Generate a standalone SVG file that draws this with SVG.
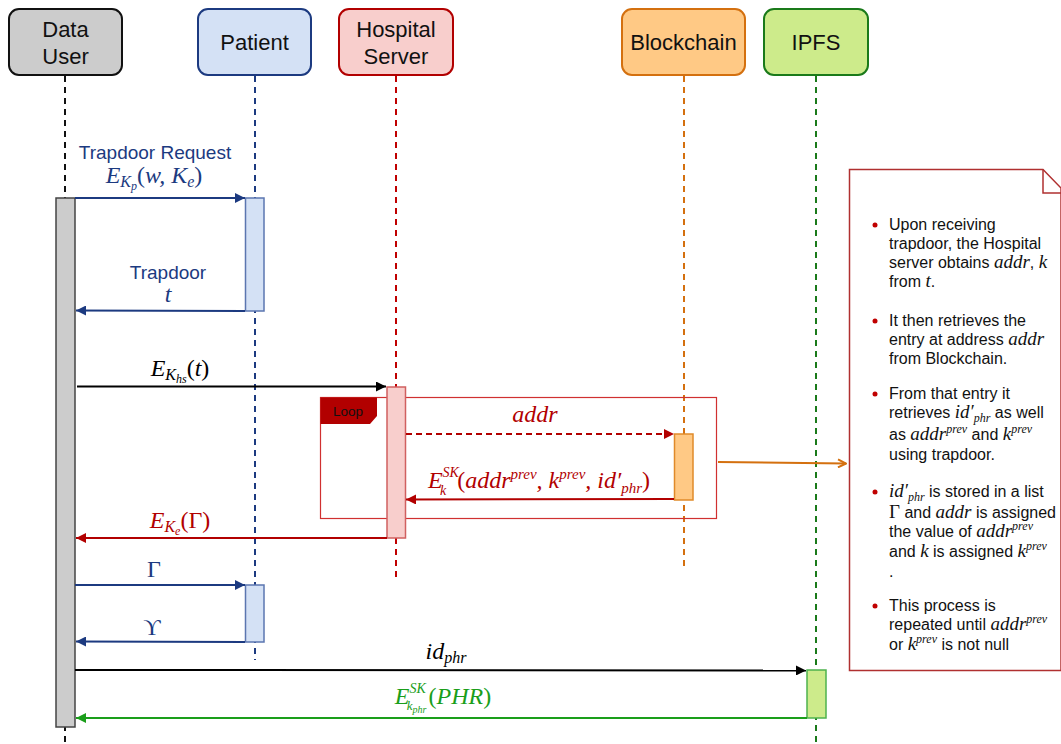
<svg xmlns="http://www.w3.org/2000/svg" width="1061" height="744" viewBox="0 0 1061 744">
  <style>
    .hdr { font-family: "Liberation Sans", Arial, sans-serif; font-size: 22px; fill: #111; text-anchor: middle; }
    .lbl { font-family: "Liberation Sans", Arial, sans-serif; font-size: 19px; text-anchor: middle; }
    .m { font-family: "Liberation Serif", "Times New Roman", serif; font-size: 24px; font-style: italic; text-anchor: middle; }
    .u { font-style: normal; }
    .note { font-family: "Liberation Sans", Arial, sans-serif; font-size: 16px; fill: #111; }
    .mi { font-family: "Liberation Serif", "Times New Roman", serif; font-size: 19px; font-style: italic; }
    .mu { font-family: "Liberation Serif", "Times New Roman", serif; font-size: 19px; font-style: normal; }
    .sx { font-family: "Liberation Serif", "Times New Roman", serif; font-size: 12px; font-style: italic; }
    .life { fill: none; stroke-width: 2; stroke-dasharray: 6 5; }
    .msg { fill: none; stroke-width: 2; }
    .blue { fill: #1c3a80; }
    .red { fill: #b20000; }
    .green { fill: #1a9e1a; }
    .black { fill: #000; }
  </style>
  <defs>
    <marker id="ahBlue" viewBox="0 0 10 10" refX="10" refY="5" markerWidth="12" markerHeight="10" markerUnits="userSpaceOnUse" orient="auto">
      <path d="M0,0 L10,5 L0,10 z" fill="#1c3a80"/>
    </marker>
    <marker id="ahBlack" viewBox="0 0 10 10" refX="10" refY="5" markerWidth="12" markerHeight="10" markerUnits="userSpaceOnUse" orient="auto">
      <path d="M0,0 L10,5 L0,10 z" fill="#000"/>
    </marker>
    <marker id="ahRed" viewBox="0 0 10 10" refX="10" refY="5" markerWidth="12" markerHeight="10" markerUnits="userSpaceOnUse" orient="auto">
      <path d="M0,0 L10,5 L0,10 z" fill="#b20000"/>
    </marker>
    <marker id="ahGreen" viewBox="0 0 10 10" refX="10" refY="5" markerWidth="12" markerHeight="10" markerUnits="userSpaceOnUse" orient="auto">
      <path d="M0,0 L10,5 L0,10 z" fill="#1a9e1a"/>
    </marker>
    <marker id="ahOpenOrange" viewBox="0 0 10 10" refX="9" refY="5" markerWidth="11" markerHeight="10" markerUnits="userSpaceOnUse" orient="auto">
      <path d="M1,1 L9,5 L1,9" fill="none" stroke="#d4700f" stroke-width="2"/>
    </marker>
  </defs>

  <rect width="1061" height="744" fill="#fff"/>

  <!-- lifelines -->
  <g id="lifelines">
    <line class="life" x1="65" y1="76" x2="65" y2="744" stroke="#111"/>
    <line class="life" x1="255" y1="76" x2="255" y2="660" stroke="#1c3a80"/>
    <line class="life" x1="396" y1="76" x2="396" y2="577" stroke="#c00000"/>
    <line class="life" x1="684" y1="76" x2="684" y2="567" stroke="#d4700f"/>
    <line class="life" x1="816" y1="76" x2="816" y2="744" stroke="#1a7a1a"/>
  </g>

  <!-- participant heads -->
  <g id="data-user">
    <rect x="9" y="9" width="113" height="66" rx="10" fill="#cccccc" stroke="#111" stroke-width="2"/>
    <text class="hdr" x="65.5" y="37">Data</text>
    <text class="hdr" x="65.5" y="64">User</text>
  </g>
  <g id="patient">
    <rect x="198" y="9" width="113" height="66" rx="10" fill="#d4e1f5" stroke="#1c3a80" stroke-width="2"/>
    <text class="hdr" x="254.5" y="50">Patient</text>
  </g>
  <g id="hospital-server">
    <rect x="339" y="9" width="114" height="66" rx="10" fill="#f8cecc" stroke="#b20000" stroke-width="2"/>
    <text class="hdr" x="396" y="37">Hospital</text>
    <text class="hdr" x="396" y="64">Server</text>
  </g>
  <g id="blockchain">
    <rect x="622" y="9" width="123" height="66" rx="10" fill="#ffc985" stroke="#d4700f" stroke-width="2"/>
    <text class="hdr" x="683.5" y="50">Blockchain</text>
  </g>
  <g id="ipfs">
    <rect x="764" y="9" width="104" height="66" rx="10" fill="#cdeb8b" stroke="#1a7a1a" stroke-width="2"/>
    <text class="hdr" x="816" y="50">IPFS</text>
  </g>

  <!-- loop frame -->
  <g id="loop">
    <rect x="320.5" y="397.5" width="396" height="121" fill="none" stroke="#d03030" stroke-width="1.2"/>
    <path d="M320.5,397.5 H377 V416 L370,424 H320.5 z" fill="#b20000"/>
    <text x="348" y="416" font-family="Liberation Sans, Arial, sans-serif" font-size="13.5" fill="#111" text-anchor="middle">Loop</text>
  </g>

  <!-- activation bars -->
  <g id="activations">
    <rect x="56" y="198" width="19" height="529" fill="#cccccc" stroke="#444" stroke-width="1.5"/>
    <rect x="245.5" y="198" width="18.5" height="113" fill="#d4e1f5" stroke="#5b76b0" stroke-width="1.5"/>
    <rect x="387" y="387" width="18.5" height="151" fill="#f8cecc" stroke="#d06060" stroke-width="1.5"/>
    <rect x="674.5" y="434" width="18.5" height="66" fill="#ffc985" stroke="#e08a2a" stroke-width="1.5"/>
    <rect x="245.5" y="585" width="18.5" height="57" fill="#d4e1f5" stroke="#5b76b0" stroke-width="1.5"/>
    <rect x="807" y="670" width="19" height="48" fill="#cdeb8b" stroke="#4db34d" stroke-width="1.5"/>
  </g>

  <!-- messages -->
  <g id="connectors">
    <line class="msg" x1="75" y1="198" x2="245" y2="198" stroke="#1c3a80" marker-end="url(#ahBlue)"/>
    <line class="msg" x1="245" y1="311" x2="76" y2="310.5" stroke="#1c3a80" marker-end="url(#ahBlue)"/>
    <line class="msg" x1="77" y1="386.5" x2="386" y2="386.5" stroke="#000" marker-end="url(#ahBlack)"/>
    <line class="msg" x1="406" y1="434" x2="674" y2="434" stroke="#b20000" stroke-dasharray="6 4" marker-end="url(#ahRed)"/>
    <line class="msg" x1="674" y1="499" x2="406" y2="499.5" stroke="#b20000" marker-end="url(#ahRed)"/>
    <line class="msg" x1="387" y1="538" x2="76" y2="538" stroke="#b20000" marker-end="url(#ahRed)"/>
    <line class="msg" x1="75" y1="585" x2="245" y2="585" stroke="#1c3a80" marker-end="url(#ahBlue)"/>
    <line class="msg" x1="245" y1="642" x2="76" y2="641.5" stroke="#1c3a80" marker-end="url(#ahBlue)"/>
    <line class="msg" x1="75" y1="670" x2="806" y2="670.5" stroke="#000" marker-end="url(#ahBlack)"/>
    <line class="msg" x1="807" y1="718" x2="76" y2="718" stroke="#1a9e1a" marker-end="url(#ahGreen)"/>
    <line x1="718" y1="462" x2="846" y2="463.5" stroke="#d4700f" stroke-width="2" marker-end="url(#ahOpenOrange)"/>
  </g>

  <!-- message labels -->
  <g id="labels">
    <text class="lbl blue" x="155" y="159">Trapdoor Request</text>
    <text class="m blue" x="154" y="183">E<tspan font-size="16" baseline-shift="-4">K<tspan font-size="12" baseline-shift="-3">p</tspan></tspan><tspan class="u">(</tspan>w, K<tspan font-size="16" baseline-shift="-4">e</tspan><tspan class="u">)</tspan></text>
    <text class="lbl blue" x="168" y="279">Trapdoor</text>
    <text class="m blue" x="168" y="302">t</text>
    <text class="m black" x="180" y="376">E<tspan font-size="16" baseline-shift="-4">K<tspan font-size="12" baseline-shift="-3">hs</tspan></tspan><tspan class="u">(</tspan>t<tspan class="u">)</tspan></text>
    <text class="m red" x="535" y="422">addr</text>
    <text class="m red" x="539" y="488">E<tspan font-size="14" dy="-11">SK</tspan><tspan font-size="14" dx="-19" dy="18">k</tspan><tspan class="u" dx="11" dy="-7">(</tspan>addr<tspan font-size="15" dy="-9">prev</tspan><tspan dy="9">, k</tspan><tspan font-size="15" dy="-9">prev</tspan><tspan dy="9">, id′</tspan><tspan font-size="15" dy="5">phr</tspan><tspan class="u" dy="-5">)</tspan></text>
    <text class="m red" x="180" y="528">E<tspan font-size="16" baseline-shift="-4">K<tspan font-size="12" baseline-shift="-3">e</tspan></tspan><tspan class="u">(Γ)</tspan></text>
    <text class="m blue u" x="154" y="577">Γ</text>
    <text class="m blue u" x="152" y="635">ϒ</text>
    <text class="m black" x="446" y="659">id<tspan font-size="16" dy="4">phr</tspan></text>
    <text class="m green" x="443" y="704">E<tspan font-size="14" dy="-11">SK</tspan><tspan font-size="13" dx="-19" dy="17">k</tspan><tspan font-size="10" dy="3">phr</tspan><tspan class="u" dx="2" dy="-9">(</tspan>PHR<tspan class="u">)</tspan></text>
  </g>

  <!-- explanatory note -->
  <g id="note">
    <path d="M849.5,169.5 H1043 L1061,188 V670.5 H849.5 z" fill="#fff" stroke="#b03030" stroke-width="1.5"/>
    <path d="M1043,169.5 V193 H1061" fill="none" stroke="#b03030" stroke-width="1.5"/>
    <g fill="#c00000">
      <circle cx="875" cy="225" r="2.5"/>
      <circle cx="875" cy="321" r="2.5"/>
      <circle cx="875" cy="394" r="2.5"/>
      <circle cx="875" cy="492" r="2.5"/>
      <circle cx="875" cy="606" r="2.5"/>
    </g>
    <text class="note" x="889" y="230">Upon receiving</text>
    <text class="note" x="889" y="249">trapdoor, the Hospital</text>
    <text class="note" x="889" y="268">server obtains <tspan class="mi">addr</tspan>, <tspan class="mi">k</tspan></text>
    <text class="note" x="889" y="287">from <tspan class="mi">t</tspan>.</text>
    <text class="note" x="889" y="326">It then retrieves the</text>
    <text class="note" x="889" y="345">entry at address <tspan class="mi">addr</tspan></text>
    <text class="note" x="889" y="364">from Blockchain.</text>
    <text class="note" x="889" y="399">From that entry it</text>
    <text class="note" x="889" y="418">retrieves <tspan class="mi">id′</tspan><tspan class="sx" dy="4">phr</tspan><tspan dy="-4"> as well</tspan></text>
    <text class="note" x="889" y="440">as <tspan class="mi">addr</tspan><tspan class="sx" dy="-7">prev</tspan><tspan dy="7"> and </tspan><tspan class="mi">k</tspan><tspan class="sx" dy="-7">prev</tspan></text>
    <text class="note" x="889" y="460">using trapdoor.</text>
    <text class="note" x="889" y="497"><tspan class="mi">id′</tspan><tspan class="sx" dy="4">phr</tspan><tspan dy="-4"> is stored in a list</tspan></text>
    <text class="note" x="889" y="518"><tspan class="mu">Γ</tspan> and <tspan class="mi">addr</tspan> is assigned</text>
    <text class="note" x="889" y="537">the value of <tspan class="mi">addr</tspan><tspan class="sx" dy="-7">prev</tspan></text>
    <text class="note" x="889" y="557">and <tspan class="mi">k</tspan> is assigned <tspan class="mi">k</tspan><tspan class="sx" dy="-7">prev</tspan></text>
    <text class="note" x="889" y="577">.</text>
    <text class="note" x="889" y="611">This process is</text>
    <text class="note" x="889" y="630">repeated until <tspan class="mi">addr</tspan><tspan class="sx" dy="-7">prev</tspan></text>
    <text class="note" x="889" y="650">or <tspan class="mi">k</tspan><tspan class="sx" dy="-7">prev</tspan><tspan dy="7"> is not null</tspan></text>
  </g>
</svg>
